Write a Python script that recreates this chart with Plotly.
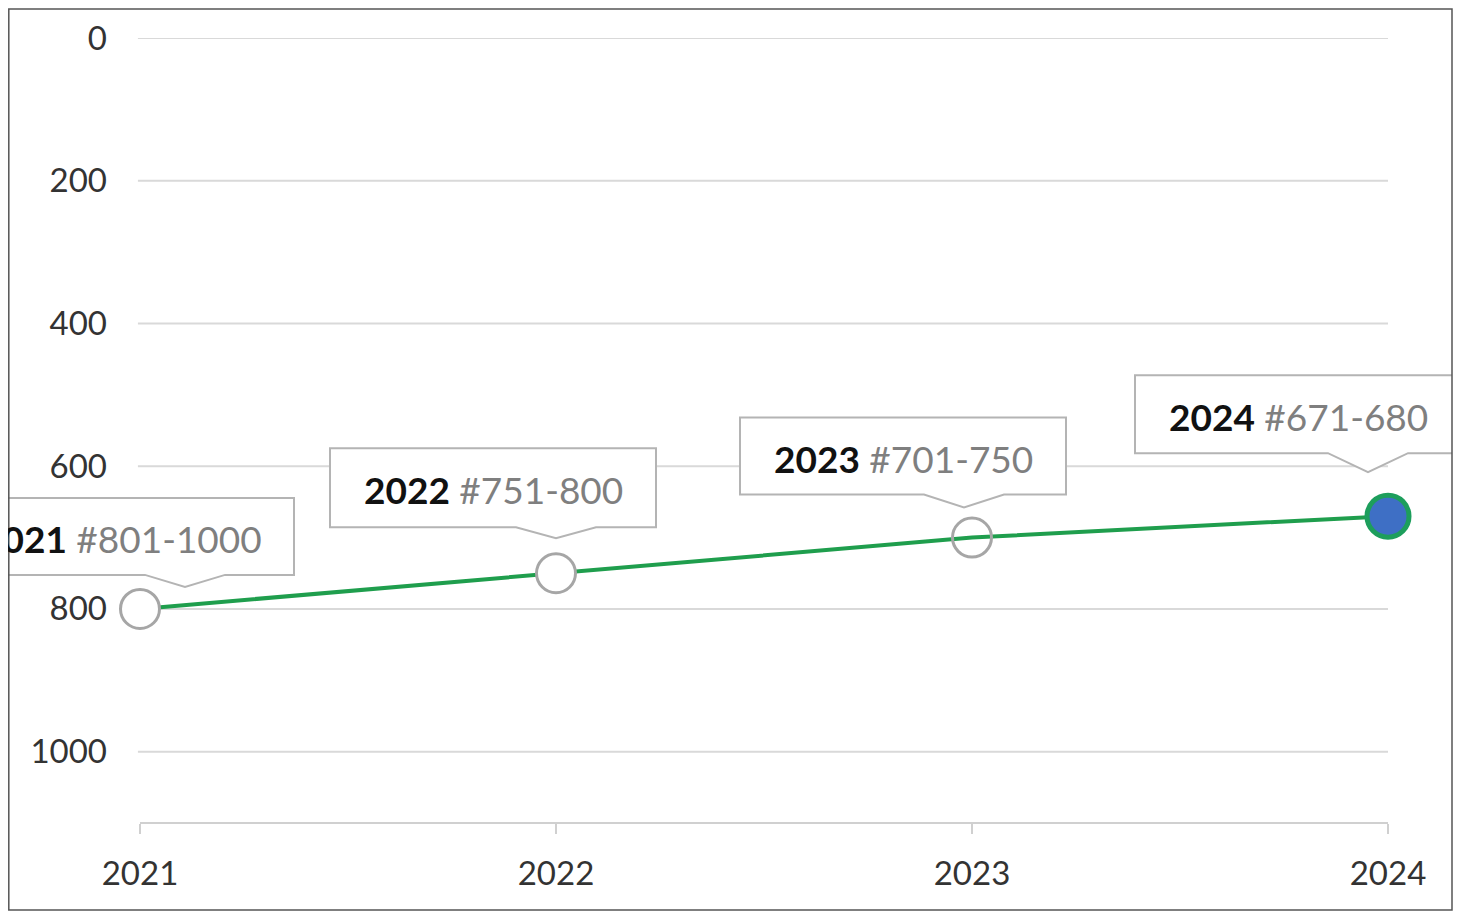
import plotly.graph_objects as go

# ---- data ----
years = [2021, 2022, 2023, 2024]
year_labels = ["2021", "2022", "2023", "2024"]
ranks = [800, 750, 700, 670]
rank_labels = ["#801-1000", "#751-800", "#701-750", "#671-680"]
y_ticks = [0, 200, 400, 600, 800, 1000]

# ---- layout geometry (page pixels; page has an 8px body margin) ----
OFF = 8
W, H = 1478 - OFF, 911 - OFF


def fx(page_x):
    return page_x - OFF


def fy(page_y):
    return page_y - OFF


PL, PR, PT, PB = fx(8), fx(1452), fy(38), fy(823)     # plot area
X_FIRST_PX, X_LAST_PX = fx(140), fx(1388)              # first / last category
px_per_year = (X_LAST_PX - X_FIRST_PX) / (years[-1] - years[0])
x_range = [years[0] - (X_FIRST_PX - PL) / px_per_year,
           years[-1] + (PR - X_LAST_PX) / px_per_year]


def paper_y(py):
    return (PB - py) / (PB - PT)


def paper_x(px):
    return (px - PL) / (PR - PL)


# callout boxes: offsets in px relative to the data point (y up)
box_left = [-191, -226, -232, -253]
box_right = [154, 100, 94, 73]
box_top = [111, 125, 120, 141]
box_bottom = [34, 46, 43, 63]
tip_dx = [45, 0, -8, -20]
tip_dy = [22, 35, 30, 44]
notch_half = 40

FONT = "Lato, 'Open Sans', sans-serif"
GRID = "#d9d9d9"

fig = go.Figure()
fig.add_trace(go.Scatter(
    x=years, y=ranks, mode="lines+markers",
    line=dict(color="#1f9e4d", width=4),
    marker=dict(size=[39, 39, 39, 42],
                color=["#ffffff", "#ffffff", "rgba(0,0,0,0)", "#3e6fc5"],
                line=dict(color=["#a6a6a6", "#a6a6a6", "#a6a6a6", "#1d9e5c"],
                          width=[3, 3, 3, 5]),
                opacity=1),
    cliponaxis=False, hoverinfo="skip", showlegend=False,
))

shapes = []
# gridlines
for v in y_ticks:
    shapes.append(dict(type="line", xref="x", yref="y", x0=years[0] - 0.005,
                       x1=years[-1], y0=v, y1=v, layer="below",
                       line=dict(color=GRID, width=2)))
# bottom axis line
shapes.append(dict(type="line", xref="x", yref="paper", x0=years[0], x1=years[-1],
                   y0=0, y1=0, layer="below", line=dict(color="#d0d0d0", width=2)))

annotations = []
for i, (yr, rk) in enumerate(zip(years, ranks)):
    L, R, T, B = box_left[i], box_right[i], box_top[i], box_bottom[i]
    tx, ty = tip_dx[i], tip_dy[i]
    path = (f"M {L},{T} L {R},{T} L {R},{B} L {tx + notch_half},{B} "
            f"L {tx},{ty} L {tx - notch_half},{B} L {L},{B} Z")
    shapes.append(dict(type="path", xref="x", yref="y", xsizemode="pixel",
                       ysizemode="pixel", xanchor=yr, yanchor=rk, path=path,
                       fillcolor="#ffffff", layer="above",
                       line=dict(color="#b4b4b4", width=2)))
    annotations.append(dict(
        x=yr, y=rk, xref="x", yref="y", showarrow=False,
        xshift=(L + R) / 2, yshift=(T + B) / 2 - 2,
        xanchor="center", yanchor="middle",
        text=(f"<b>{year_labels[i]}</b> "
              f"<span style='color:#7f7f7f'>{rank_labels[i]}</span>"),
        font=dict(family=FONT, size=37, color="#111111"),
    ))

# outer frame
shapes.append(dict(type="rect", xref="paper", yref="paper",
                   x0=paper_x(PL + 0.8), x1=paper_x(fx(1452)),
                   y0=paper_y(fy(910)), y1=paper_y(1),
                   layer="above", line=dict(color="#555555", width=1.5)))

fig.update_layout(
    width=W, height=H,
    margin=dict(l=PL, r=W - PR, t=PT, b=H - PB, pad=0),
    paper_bgcolor="#ffffff", plot_bgcolor="#ffffff",
    shapes=shapes, annotations=annotations,
    font=dict(family=FONT, color="#404040"),
    xaxis=dict(range=x_range, tickmode="array", tickvals=years, ticktext=year_labels,
               ticks="outside", ticklen=10, tickwidth=2, tickcolor="#d0d0d0",
               showgrid=False, zeroline=False, showline=False,
               tickfont=dict(family=FONT, size=33, color="#333333"),
               ticklabelstandoff=11),
    yaxis=dict(range=[1100, 0], anchor="free", position=paper_x(fx(107)),
               tickmode="array", tickvals=y_ticks,
               ticktext=[str(v) for v in y_ticks],
               ticks="", showgrid=False, zeroline=False, showline=False,
               tickfont=dict(family=FONT, size=33, color="#333333")),
)

fig.write_html("out.html")
